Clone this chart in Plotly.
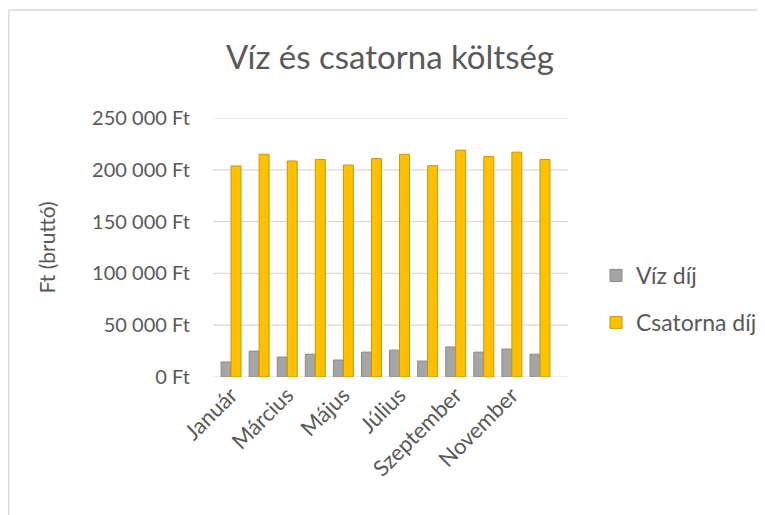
import plotly.graph_objects as go

# havi adatok
honapok = ['Január', 'Február', 'Március', 'Április', 'Május', 'Június',
           'Július', 'Augusztus', 'Szeptember', 'Október', 'November', 'December']
viz_dij = [14500, 25000, 19300, 22000, 16400, 24000, 26000, 15400, 29000, 24000, 27000, 22000]
csatorna_dij = [203700, 215000, 208500, 210000, 204600, 211000, 215000, 204000, 219000, 213000, 217000, 210000]

y_ertekek = [0, 50000, 100000, 150000, 200000, 250000]
y_feliratok = ['0 Ft', '50 000 Ft', '100 000 Ft', '150 000 Ft', '200 000 Ft', '250 000 Ft']

# a html oldal body-ja 8 px margót ad, ezért minden 8 px-lel balra/feljebb kerül
W, H = 765, 515
L, T = 209, 110
pw, ph = 337, 259
R, B = W - L - pw, H - T - ph
szoveg = '#595959'

fig = go.Figure()
fig.add_trace(go.Bar(x=honapok, y=viz_dij, name='Víz díj', legendgroup='a',
                     marker=dict(color='#A5A5A5', line=dict(color='#8A8A8A', width=1))))
fig.add_trace(go.Bar(x=honapok, y=csatorna_dij, name='Csatorna díj', legendgroup='b',
                     marker=dict(color='#FFC000', line=dict(color='#C99700', width=1))))

# rácsvonalak (a 3D mélység miatt jobbra túlnyúlnak)
for v in y_ertekek:
    fig.add_shape(type='line', xref='paper', yref='y', x0=-4 / pw, x1=(560 - L) / pw, y0=v, y1=v,
                  line=dict(color='#D9D9D9', width=1.2), layer='below')

# keret a diagram körül (csak bal és felső oldal látszik)
x0 = (0.75 - L) / pw
y1 = (H - B - 2) / ph
fig.add_shape(type='line', xref='paper', yref='paper', x0=x0, x1=(W + 5 - L) / pw, y0=y1, y1=y1,
              line=dict(color='#D9D9D9', width=1.5))
fig.add_shape(type='line', xref='paper', yref='paper', x0=x0, x1=x0, y0=y1, y1=-(B + 5) / ph,
              line=dict(color='#D9D9D9', width=1.5))

fig.update_layout(
    width=W, height=H,
    margin=dict(l=L, r=R, t=T, b=B, autoexpand=False),
    paper_bgcolor='white', plot_bgcolor='rgba(0,0,0,0)',
    font=dict(family='Lato', color=szoveg, size=20),
    title=dict(text='Víz és csatorna költség', x=382 / W, xanchor='center',
               y=1 - 49 / H, yanchor='middle', font=dict(size=33, color=szoveg)),
    barmode='group', bargap=0.29, bargroupgap=0,
    legend=dict(x=(588 - L) / pw, xanchor='left', y=(H - B - 246) / ph, yanchor='top',
                font=dict(size=23, color=szoveg), tracegroupgap=14, itemwidth=30),
    showlegend=True,
)
fig.update_xaxes(tickvals=honapok[::2], tickangle=-45, showgrid=False, showline=False,
                 ticks='', tickfont=dict(size=22, color=szoveg))
fig.update_yaxes(range=[0, 250000], tickvals=y_ertekek, ticktext=y_feliratok,
                 showgrid=False, zeroline=False, ticks='',
                 ticklabelstandoff=26, tickfont=dict(size=20, color=szoveg),
                 title=dict(text='Ft (bruttó)', font=dict(size=21, color=szoveg), standoff=30))

fig.write_html('out.html')
